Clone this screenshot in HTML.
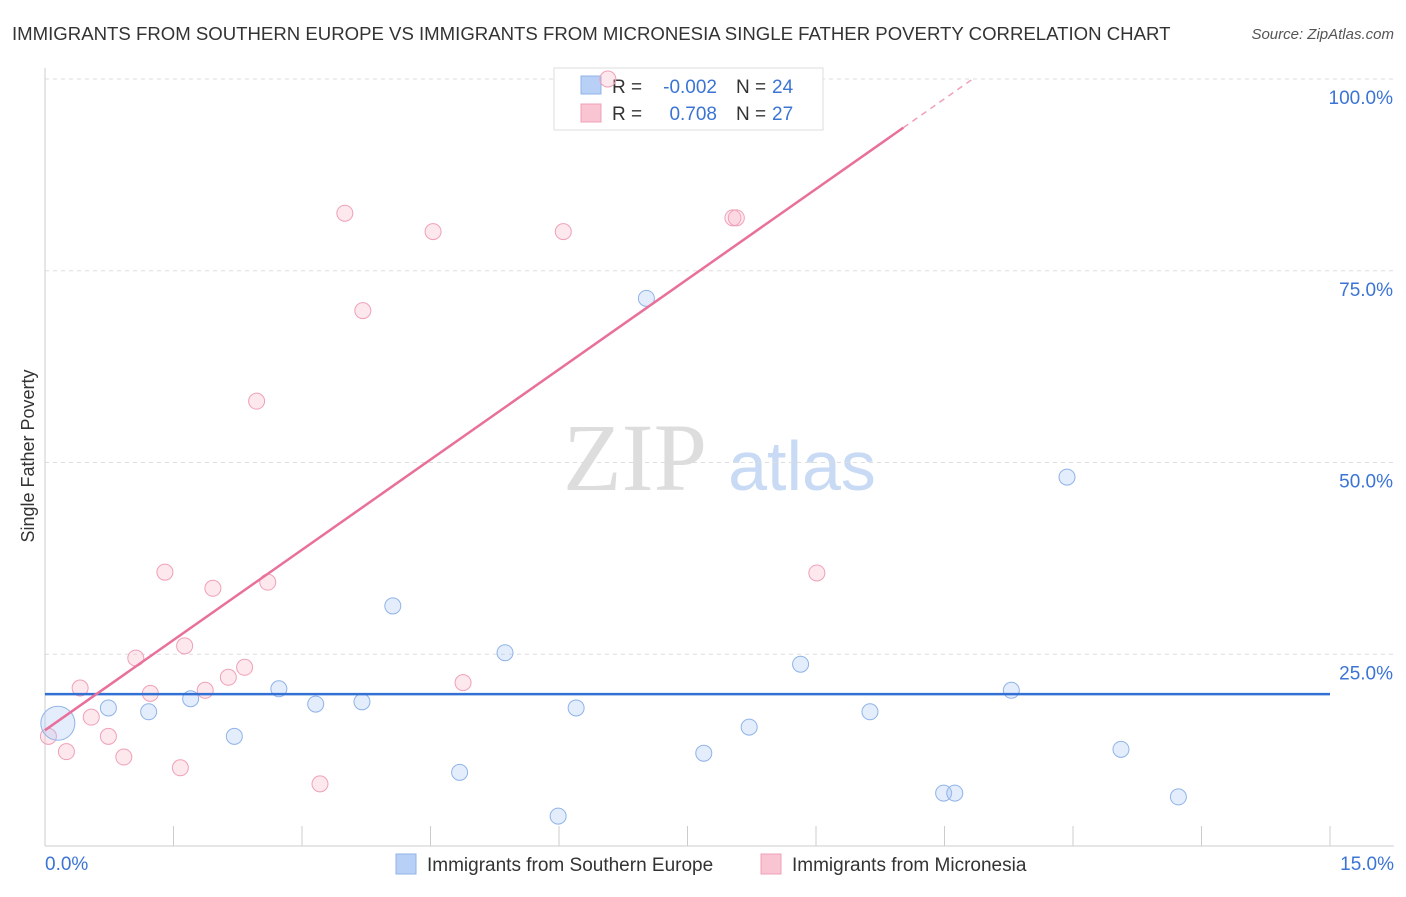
<!DOCTYPE html>
<html><head><meta charset="utf-8"><style>
body{margin:0;background:#fff;font-family:"Liberation Sans",sans-serif;}
</style></head><body>
<svg id="chart" width="1406" height="892" font-family="Liberation Sans, sans-serif">
<text x="12" y="40" font-size="18.6" fill="#333">IMMIGRANTS FROM SOUTHERN EUROPE VS IMMIGRANTS FROM MICRONESIA SINGLE FATHER POVERTY CORRELATION CHART</text>
<text x="1394" y="39" font-size="15" fill="#555" font-style="italic" text-anchor="end">Source: ZipAtlas.com</text>
<text x="34" y="456" font-size="18" fill="#333" text-anchor="middle" transform="rotate(-90 34 456)">Single Father Poverty</text>
<text x="635" y="490" font-size="96" fill="#ddd" font-family="Liberation Serif, serif" text-anchor="middle">ZIP</text>
<text x="802" y="490" font-size="70" fill="#c9daf5" text-anchor="middle">atlas</text>
<g id="grid"></g>
<g>
<rect x="554" y="68" width="269" height="62" fill="#fff" stroke="#ddd"/>
<rect x="581" y="76" width="20" height="18" fill="#b8d0f5" stroke="#8fb3e8"/>
<rect x="581" y="104" width="20" height="18" fill="#fac5d3" stroke="#f0a0b8"/>
<text x="612" y="93" font-size="19" fill="#333">R =</text>
<text x="717" y="93" font-size="19" fill="#3b74d4" text-anchor="end">-0.002</text>
<text x="736" y="93" font-size="19" fill="#333">N =</text>
<text x="772" y="93" font-size="19" fill="#3b74d4">24</text>
<text x="612" y="120" font-size="19" fill="#333">R =</text>
<text x="717" y="120" font-size="19" fill="#3b74d4" text-anchor="end">0.708</text>
<text x="736" y="120" font-size="19" fill="#333">N =</text>
<text x="772" y="120" font-size="19" fill="#3b74d4">27</text>
</g>
<g id="marks"></g>
<g>
<rect x="396" y="854" width="20" height="20" fill="#b8d0f5" stroke="#8fb3e8"/>
<text x="427" y="871" font-size="19" fill="#333">Immigrants from Southern Europe</text>
<rect x="761" y="854" width="20" height="20" fill="#fac5d3" stroke="#f0a0b8"/>
<text x="792" y="871" font-size="19" fill="#333">Immigrants from Micronesia</text>
</g>
</svg>
<script>
const blueX=[0.15,0.74,1.21,1.70,2.21,2.73,3.16,3.70,4.06,4.84,5.37,5.99,6.20,7.02,7.69,8.22,8.82,9.63,10.49,10.62,11.28,11.93,12.56,13.23];
const blueY=[16.0,18.0,17.5,19.2,14.3,20.5,18.5,18.8,31.3,9.6,25.2,3.9,18.0,71.4,12.1,15.5,23.7,17.5,6.9,6.9,20.3,48.1,12.6,6.4];
const pinkX=[0.04,0.25,0.41,0.54,0.74,0.92,1.06,1.23,1.40,1.58,1.63,1.87,1.96,2.14,2.33,2.47,2.60,3.21,3.50,3.71,4.53,4.88,6.05,6.57,8.03,8.07,9.01];
const pinkY=[14.3,12.3,20.6,16.8,14.3,11.6,24.5,19.9,35.7,10.2,26.1,20.3,33.6,22.0,23.3,58.0,34.4,8.1,82.5,69.8,80.1,21.3,80.1,100,81.9,81.9,35.6];
const yTicks=[25,50,75,100];
const yTickLabels=["25.0%","50.0%","75.0%","100.0%"];
const xTicks=[0,1.5,3,4.5,6,7.5,9,10.5,12,13.5,15];
const blueTrend=[19.8,19.8];
const pinkTrend=[15.1,132.7];
const NS="http://www.w3.org/2000/svg";
const sx=v=>45+v/15*1285, sy=v=>846-v/100*767;
function mk(t,a,p){const e=document.createElementNS(NS,t);for(const k in a)e.setAttribute(k,a[k]);p.appendChild(e);return e;}
const g=document.getElementById('grid'), m=document.getElementById('marks');
yTicks.forEach((v,i)=>{
 const l=mk('line',{x1:45,x2:1394,y1:sy(v),y2:sy(v),stroke:'#ddd','stroke-dasharray':'4,4'},g);
 
 
 const t=mk('text',{x:1393,y:sy(v)+25,'font-size':19,fill:'#3b74d4','text-anchor':'end'},g);t.textContent=yTickLabels[i];
 
 
});
mk('line',{x1:45,x2:45,y1:68,y2:846,stroke:'#ccc'},g);
mk('line',{x1:45,x2:1394,y1:846,y2:846,stroke:'#ccc'},g);
xTicks.forEach(v=>{const l=mk('line',{x1:sx(v),x2:sx(v),y1:826,y2:846,stroke:'#ccc'},g);
 
 });
let t=mk('text',{x:45,y:870,'font-size':19,fill:'#3b74d4'},g);t.textContent="0.0%";


t=mk('text',{x:1394,y:870,'font-size':19,fill:'#3b74d4','text-anchor':'end'},g);t.textContent="15.0%";


pinkX.forEach((x,i)=>{const c=mk('circle',{cx:sx(x),cy:sy(pinkY[i]),r:8,fill:'rgba(248,180,200,0.3)',stroke:'#f0a0b8','stroke-width':1},m);
 
 });
blueX.forEach((x,i)=>{const c=mk('circle',{cx:sx(x),cy:sy(blueY[i]),r:i==0?17:8,fill:'rgba(164,194,244,0.3)',stroke:'#8fb3e8','stroke-width':1},m);
 
 });
let l=mk('line',{x1:sx(0),x2:sx(15),y1:sy(blueTrend[0]),y2:sy(blueTrend[1]),stroke:'#3370d4','stroke-width':2.5},m);


const pk=x=>pinkTrend[0]+(pinkTrend[1]-pinkTrend[0])*x/15;
l=mk('line',{x1:sx(0),x2:sx(10.02),y1:sy(pk(0)),y2:sy(pk(10.02)),stroke:'#e8709a','stroke-width':2.5},m);


const xe=10.02+(sy(pk(10.02))-79)/0.7016/1285*15;
l=mk('line',{x1:sx(10.02),x2:sx(xe),y1:sy(pk(10.02)),y2:sy(pk(xe)),stroke:'#f0a0b8','stroke-width':1.5,'stroke-dasharray':'6,5'},m);


</script>
</body></html>
